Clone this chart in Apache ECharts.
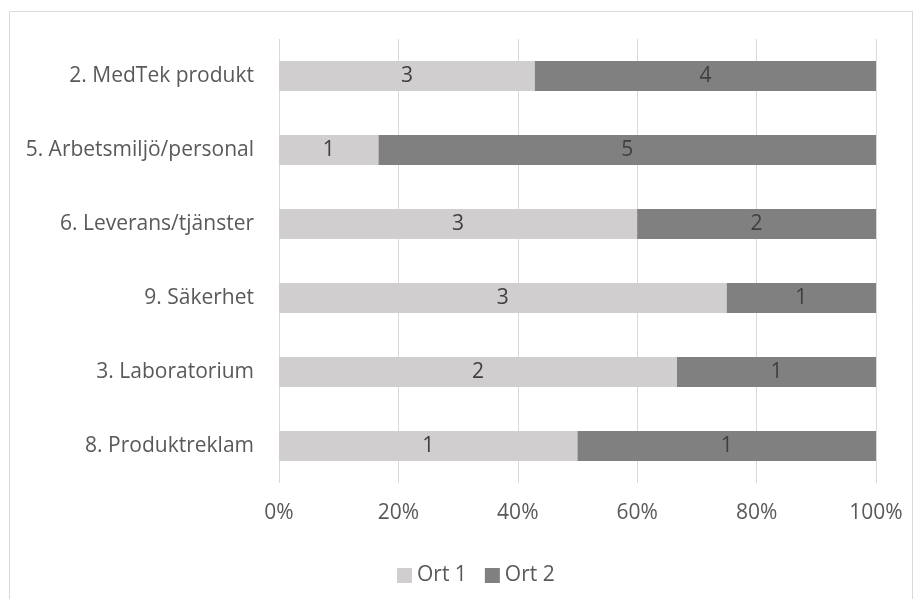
<!DOCTYPE html>
<html>
<head>
<meta charset="utf-8">
<script src="https://cdn.jsdelivr.net/npm/echarts@6/dist/echarts.min.js"></script>
<style>
  html, body { margin: 0; padding: 0; background: #fff; }
  #chart { width: 919px; height: 599px; }
</style>
</head>
<body>
<div id="chart"></div>
<script>
// Categories listed top to bottom
const categories = [
  '2. MedTek produkt',
  '5. Arbetsmiljö/personal',
  '6. Leverans/tjänster',
  '9. Säkerhet',
  '3. Laboratorium',
  '8. Produktreklam'
];
const ort1 = [3, 1, 3, 3, 2, 1];
const ort2 = [4, 5, 2, 1, 1, 1];
const seriesNames = ['Ort 1', 'Ort 2'];
const xTicks = [0, 20, 40, 60, 80, 100];

const FONT = '"Open Sans", sans-serif';
const TEXT = '#595959';
const SIZE = 21;

// 100% stacked: each bar is its share of the row total, labelled with the count
function shareData(vals) {
  return vals.map((v, i) => ({
    value: v / (ort1[i] + ort2[i]) * 100,
    count: v
  }));
}

const chart = echarts.init(document.getElementById('chart'), null, { renderer: 'canvas' });

chart.setOption({
  backgroundColor: '#fff',
  animation: false,
  graphic: [{
    type: 'rect',
    shape: { x: 9.5, y: 11.5, width: 903, height: 600 },
    style: { fill: 'none', stroke: '#d9d9d9', lineWidth: 1 },
    silent: true
  }],
  grid: { left: 279, right: 43, top: 39, bottom: 116 },
  legend: {
    data: seriesNames,
    left: 397,
    top: 565,
    padding: 0,
    itemWidth: 15,
    itemHeight: 15,
    itemGap: 18,
    icon: 'rect',
    textStyle: { fontFamily: FONT, fontSize: SIZE, lineHeight: 21, color: TEXT }
  },
  xAxis: {
    type: 'value',
    min: 0,
    max: 100,
    interval: 20,
    axisLine: { show: false },
    axisTick: { show: false },
    splitLine: { lineStyle: { color: '#d9d9d9', width: 1 } },
    axisLabel: {
      formatter: v => xTicks.includes(v) ? v + '%' : '',
      fontFamily: FONT, fontSize: SIZE, color: TEXT, margin: 20
    }
  },
  yAxis: {
    type: 'category',
    data: categories,
    inverse: true,
    axisLine: { show: false },
    axisTick: { show: false },
    splitLine: { show: false },
    axisLabel: { fontFamily: FONT, fontSize: SIZE, color: TEXT, margin: 25 }
  },
  series: [
    {
      name: seriesNames[0],
      type: 'bar',
      stack: 'total',
      barWidth: 30,
      data: shareData(ort1),
      itemStyle: { color: '#d0cece' },
      label: {
        show: true, position: 'inside',
        formatter: p => p.data.count,
        fontFamily: FONT, fontSize: SIZE, color: '#404040'
      }
    },
    {
      name: seriesNames[1],
      type: 'bar',
      stack: 'total',
      barWidth: 30,
      data: shareData(ort2),
      itemStyle: { color: '#808080' },
      label: {
        show: true, position: 'inside',
        formatter: p => p.data.count,
        fontFamily: FONT, fontSize: SIZE, color: '#404040'
      }
    }
  ]
});
</script>
</body>
</html>
